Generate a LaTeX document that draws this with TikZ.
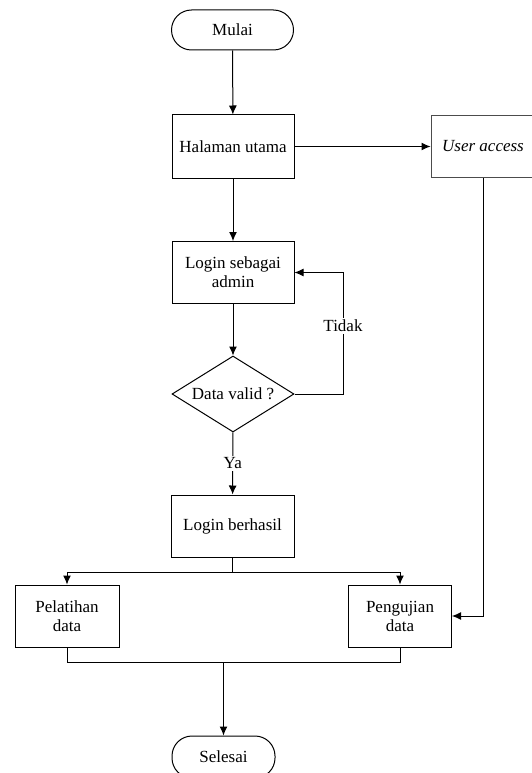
\documentclass[tikz,border=0pt]{standalone}
\usepackage{fontspec}
\setmainfont{Liberation Serif}
\usetikzlibrary{
	arrows.meta,
	shapes.geometric,
	positioning
}

\begin{document}
\begin{tikzpicture}[x=1pt, y=-1pt,
    every node/.style={font=\fontsize{17}{19}\selectfont},
    proses/.style={draw, line width=1pt, minimum width=122pt, minimum height=62pt, align=center, inner sep=2pt},
    terminal/.style={draw, line width=1pt, rounded corners=20pt, minimum width=122pt, minimum height=40pt},
    keputusan/.style={draw, diamond, aspect=1.6, line width=1pt, minimum width=122pt, minimum height=76pt, inner sep=0pt},
    alur/.style={-{Latex[length=9pt,width=8pt]}, line width=1pt},
    garis/.style={line width=1pt},
    ket/.style={fill=white, inner sep=2pt}]
    % Definitions
    \useasboundingbox (0,0) rectangle (531,773);
    \def \kiri{67}
    \def \kanan{400}
    %%%
    %%% Nodes
    %%%
    \node[terminal] (mulai) at (232.5,30) {Mulai};
    \node[proses, minimum height=63pt] (halaman) at (233,146.5) {Halaman utama};
    \node[proses, draw=black!70, minimum width=104pt] (user) at (483,146.5) {\textit{User access}};
    \node[proses] (login) at (233,272.5) {Login sebagai\\admin};
    \node[keputusan] (valid) at (233,394) {Data valid ?};
    \node[proses, minimum width=123pt] (berhasil) at (232.5,526) {Login berhasil};
    \node[proses, minimum width=104pt] (pelatihan) at (\kiri,616) {Pelatihan\\data};
    \node[proses, minimum width=103pt] (pengujian) at (\kanan,616) {Pengujian\\data};
    \node[terminal, minimum width=103pt, minimum height=42pt] (selesai) at (223.5,757) {Selesai};
    % Helper points
    \coordinate (putar) at (343,394);
    \coordinate (cabang) at (232.5,572);
    \coordinate (gabung) at (223.5,662.5);
    %%%
    %%% Connectors
    %%%
    \draw[alur] (mulai) -- (halaman);
    \draw[alur] (halaman) -- (user);
    \draw[alur] (user.south) |- (pengujian.east);
    \draw[alur] (halaman) -- (login);
    \draw[alur] (login) -- (valid);
    % Loop back when invalid
    \draw[alur] (valid.east) -- (putar) |- node[ket, pos=0.28] {Tidak} (login.east);
    \draw[alur] (valid) -- node[ket, midway] {Ya} (berhasil);
    % Split to both processes
    \draw[garis] (berhasil) -- (cabang);
    \draw[alur] (cabang) -| (pelatihan);
    \draw[alur] (cabang) -| (pengujian);
    % Join to the end
    \draw[garis] (pelatihan.south) |- (gabung);
    \draw[garis] (gabung) -| (pengujian.south);
    \draw[alur] (gabung) -- (selesai);
\end{tikzpicture}
\end{document}
